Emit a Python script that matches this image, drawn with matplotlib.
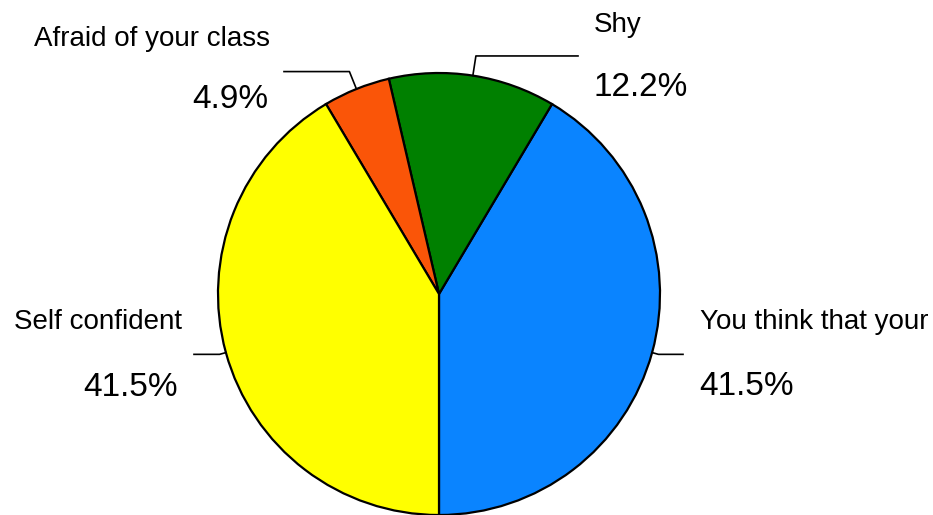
import numpy as np
import matplotlib.pyplot as plt

plt.rcParams['font.family'] = ['Liberation Sans', 'DejaVu Sans']

labels = ['You think that your', 'Shy', 'Afraid of your class', 'Self confident']
values = [41.5, 12.2, 4.9, 41.5]
colors = ['#0a84ff', '#008000', '#fa5508', '#ffff00']

W, H = 933, 515
fig = plt.figure(figsize=(W / 100, H / 100), dpi=100)
ax = fig.add_axes([0, 0, 1, 1])
ax.set_xlim(0, W)
ax.set_ylim(0, H)
ax.set_aspect('equal')
ax.axis('off')

cx, cy, r = 439, H - 294, 221
wedges, _ = ax.pie(values, colors=colors, startangle=270, counterclock=True,
                   center=(cx, cy), radius=r, frame=True,
                   wedgeprops=dict(edgecolor='black', linewidth=1.6))
ax.set_xlim(0, W)
ax.set_ylim(0, H)
ax.axis('off')

# leader lines: elbow radius, end x, name pos, pct pos, alignment (pixel coords)
layout = {
    'You think that your': (1.03, 683, (700, 329), (699, 395), 'left'),
    'Shy': (1.09, 578, (594, 32), (594, 96), 'left'),
    'Afraid of your class': (1.085, 284, (270, 46), (268, 108), 'right'),
    'Self confident': (1.03, 194, (182, 329), (178, 396), 'right'),
}

for w, lab, v in zip(wedges, labels, values):
    mid = np.deg2rad((w.theta1 + w.theta2) / 2)
    er, xend, npos, ppos, ha = layout[lab]
    x0, y0 = cx + r * np.cos(mid), cy + r * np.sin(mid)
    x1, y1 = cx + er * r * np.cos(mid), cy + er * r * np.sin(mid)
    ax.plot([x0, x1, xend], [y0, y1, y1], color='black', lw=1.2)
    ax.text(npos[0], H - npos[1], lab, ha=ha, va='baseline', fontsize=20)
    ax.text(ppos[0], H - ppos[1], f'{v:.1f}%', ha=ha, va='baseline', fontsize=24)

fig.savefig('out.png', dpi=100)
